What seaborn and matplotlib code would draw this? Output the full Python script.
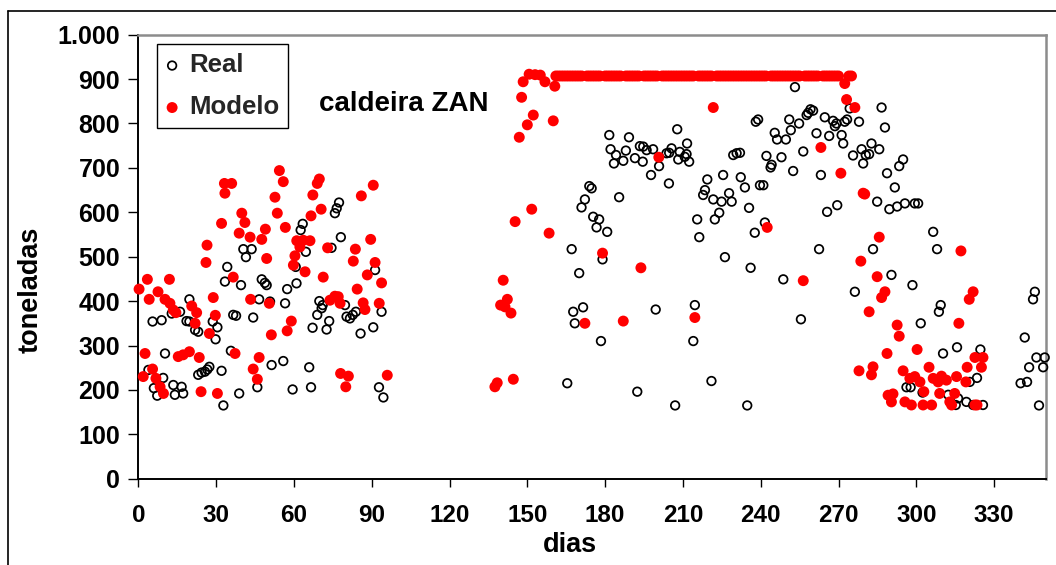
import matplotlib
matplotlib.use("Agg")
import matplotlib.pyplot as plt
import seaborn as sns
import pandas as pd
from matplotlib.lines import Line2D

# ---------------- data ----------------
real_dias = [
    77.4, 76.5, 75.8, 78.1, 63.4, 62.6, 40.5, 43.7, 41.5, 64.6, 74.5, 34.3, 91.3,
    33.4, 39.6, 47.6, 48.8, 49.5, 57.4, 61.0, 60.7, 46.6, 50.8,
    56.6, 44.3, 36.6, 37.7, 35.7, 19.7, 16.1, 12.9, 5.5, 9.0,
    18.6, 19.7, 28.7, 30.5, 29.8, 21.9, 23.1, 10.3, 3.9, 9.6,
    6.0, 7.3, 13.5, 14.1, 16.7, 17.3, 23.1, 24.4, 25.7, 26.6,
    27.4, 32.1, 32.8, 38.9, 45.9, 51.4, 55.9, 65.9, 59.5, 66.6,
    67.2, 72.6, 73.6, 69.0, 69.8, 70.7, 71.1, 79.7, 80.3, 81.6,
    82.7, 83.9, 85.7, 90.6, 93.8, 92.8, 94.5,
    181.6, 189.2, 207.8, 211.6, 182.1, 184.2, 183.4, 187.0, 188.0, 191.5,
    193.4, 194.7, 196.0, 194.5, 198.5, 200.8, 203.7, 205.6, 204.7, 208.8,
    210.7, 211.4, 212.4, 208.2, 197.7, 204.6, 185.4, 173.9, 174.8, 172.2,
    170.9, 175.4, 177.7, 176.7, 180.8, 167.1, 179.0, 170.0, 238.1, 239.0,
    229.4, 230.7, 232.0, 219.4, 225.5, 232.3, 233.9, 239.7, 218.5, 217.8,
    221.7, 224.9, 227.8, 228.8, 224.0, 222.3, 235.5, 215.5, 216.3, 237.7,
    226.2, 236.1,
    167.7, 171.5, 168.3, 178.4, 199.5, 214.6, 214.0, 165.4, 192.4, 207.0, 221.0, 234.8,
    253.2, 258.3, 259.2, 260.2, 257.7, 251.0, 254.8, 251.6, 245.4, 246.3,
    249.7, 261.5, 264.7, 266.4, 267.9, 268.6, 269.2, 271.2, 271.8, 272.4,
    273.3, 274.3, 277.9, 286.6, 287.9, 256.4, 278.9, 282.7, 285.7, 275.6,
    280.5, 281.8, 279.5, 293.4, 294.9, 288.7, 291.7, 284.9, 289.6, 292.6,
    295.6, 299.4, 300.7, 242.2, 248.0, 244.2, 243.8, 252.5, 263.2, 241.0,
    265.6, 269.5, 241.6, 262.5, 283.3, 306.5, 308.0, 248.7, 290.4,
    298.5, 276.3, 255.5, 309.4, 308.7, 301.7, 310.3, 315.7, 324.7, 323.4,
    320.6, 296.2, 297.8, 302.4, 312.3, 316.1, 315.2, 319.3, 321.9, 325.7,
    345.7, 345.0, 341.8, 346.3, 349.5, 343.5, 348.9, 340.2, 342.7, 347.3,
]
real_ton = [
    622, 609, 598, 544, 574, 560, 517, 517, 499, 511, 520, 477, 470,
    444, 436, 449, 441, 436, 427, 440, 477, 404, 399,
    395, 363, 369, 367, 288, 404, 376, 372, 354, 357,
    355, 354, 354, 341, 314, 335, 331, 282, 245, 227,
    204, 187, 211, 189, 207, 192, 234, 239, 241, 246,
    252, 243, 165, 192, 206, 256, 265, 251, 201, 206,
    340, 336, 355, 369, 400, 384, 391, 391, 365, 361,
    369, 376, 327, 341, 376, 206, 183,
    774, 769, 787, 755, 742, 729, 710, 716, 739, 722,
    749, 748, 740, 714, 742, 704, 733, 744, 734, 736,
    725, 731, 714, 719, 684, 665, 634, 659, 654, 629,
    611, 590, 584, 566, 556, 517, 494, 463, 804, 809,
    729, 733, 734, 674, 684, 679, 656, 661, 650, 639,
    629, 624, 643, 624, 599, 584, 610, 584, 544, 554,
    499, 475,
    376, 386, 350, 310, 381, 391, 310, 215, 196, 165, 220, 165,
    882, 824, 832, 829, 819, 809, 800, 785, 779, 764,
    764, 778, 814, 772, 806, 794, 800, 774, 755, 804,
    809, 834, 804, 836, 791, 737, 742, 755, 742, 728,
    729, 731, 710, 704, 719, 688, 656, 624, 607, 613,
    620, 620, 620, 727, 724, 707, 701, 693, 684, 661,
    601, 616, 577, 517, 517, 556, 517, 449, 459,
    436, 421, 359, 391, 376, 350, 282, 296, 291, 227,
    218, 206, 206, 194, 189, 181, 166, 173, 166, 166,
    421, 404, 318, 273, 273, 251, 251, 215, 218, 165,
]

modelo_dias = [
    33.2, 36.0, 33.4, 54.4, 55.9, 52.7, 53.6, 56.7, 69.8, 69.0,
    67.3, 70.5, 66.6, 90.6, 86.0, 89.6, 83.7, 82.9, 91.3, 73.0,
    39.9, 41.1, 32.1, 38.9, 43.1, 49.0, 47.6, 26.5, 26.1, 49.5,
    61.1, 66.2, 63.6, 62.3, 60.4, 59.8,
    64.3, 71.3, 88.3, 93.8, 84.4, 86.7, 87.4, 92.9, 73.9, 75.8,
    77.1, 77.8, 50.5, 43.3, 51.3, 59.0, 57.4, 36.6, 28.9, 29.7,
    27.4, 0.3, 3.5, 12.0, 7.6, 4.2, 10.3, 12.2, 13.5, 14.5,
    20.6, 22.5, 21.9, 2.6, 1.9, 5.5, 6.8, 8.4, 9.7, 15.4,
    17.3, 19.7, 23.5, 24.2, 30.5, 37.3, 46.6, 44.3, 45.9, 78.0,
    81.0, 80.0, 96.0,
    148.4, 150.7, 153.0, 155.0, 156.8, 160.6, 147.8, 152.3, 150.0, 146.9,
    160.0, 221.7, 200.7, 151.7, 145.3, 158.4, 179.0, 193.8, 140.7,
    142.3, 139.7, 141.4, 143.7, 137.5, 138.4, 144.6, 172.2, 187.0, 214.6,
    272.4, 273.1, 276.3, 263.2, 270.9, 279.5, 280.1, 242.5, 285.7, 317.2,
    278.6, 284.9, 256.4,
    287.9, 286.6, 281.8, 321.9, 320.4, 316.4, 292.6, 293.4, 300.3, 288.7,
    283.3, 282.7, 277.9, 294.9, 304.9, 297.5, 299.4, 301.4, 302.9, 306.5,
    308.4, 309.7, 311.6, 315.5, 319.1, 319.6, 322.6, 325.7, 325.1, 289.1,
    291.0, 290.4, 295.6, 298.1, 302.6, 305.9, 309.0, 312.9, 314.8, 313.6,
    322.6, 323.4,
]
modelo_ton = [
    665, 665, 643, 694, 669, 634, 598, 566, 675, 665,
    639, 607, 592, 661, 637, 539, 517, 490, 487, 520,
    598, 577, 575, 553, 544, 562, 539, 526, 487, 496,
    536, 536, 537, 522, 502, 481,
    466, 454, 459, 441, 427, 396, 381, 395, 402, 411,
    410, 395, 395, 404, 324, 355, 333, 454, 408, 368,
    327, 427, 449, 449, 421, 404, 404, 395, 380, 374,
    389, 374, 350, 282, 230, 247, 226, 207, 192, 275,
    279, 286, 273, 196, 192, 282, 273, 247, 224, 237,
    231, 207, 233,
    894, 911, 910, 909, 894, 884, 859, 819, 797, 769,
    806, 836, 724, 607, 579, 553, 508, 475, 447,
    404, 391, 387, 373, 207, 216, 224, 350, 355, 363,
    890, 854, 836, 746, 688, 643, 641, 566, 544, 513,
    490, 455, 446,
    421, 408, 376, 421, 404, 350, 346, 321, 291, 282,
    252, 234, 243, 243, 251, 226, 230, 218, 196, 226,
    218, 231, 222, 230, 218, 251, 273, 273, 251, 188,
    191, 173, 173, 166, 166, 166, 192, 173, 192, 166,
    166, 166,
]

# days on which the model sits at its capacity ceiling
teto_dias = [
    161, 162, 163, 164, 165, 166, 167, 168, 169, 170, 171,
    173, 174, 175, 176, 177, 178,
    180, 181, 182, 183, 184, 185, 186,
    188, 189, 190, 191, 192, 193,
    195, 196, 197, 198, 199, 200,
    202, 203, 204, 205, 206, 207, 208, 209, 210, 211, 212, 213, 214,
    216, 217, 218, 219, 220, 221,
    223, 224, 225, 226, 227, 228, 229, 230, 231, 232,
    233, 234, 235, 236, 237, 238, 239, 240, 241, 242,
    244, 245, 246, 247, 248, 249, 250, 251, 252, 253, 254, 255,
    257, 258, 259, 260, 261, 262,
    264, 265, 266, 267, 268, 269, 270,
    274, 275,
]
teto_ton = [
    907, 907, 907, 907, 907, 907, 907, 907, 907, 907, 907,
    907, 907, 907, 907, 907, 907,
    907, 907, 907, 907, 907, 907, 907,
    907, 907, 907, 907, 907, 907,
    907, 907, 907, 907, 907, 907,
    907, 907, 907, 907, 907, 907, 907, 907, 907, 907, 907, 907, 907,
    907, 907, 907, 907, 907, 907,
    907, 907, 907, 907, 907, 907, 907, 907, 907, 907,
    907, 907, 907, 907, 907, 907, 907, 907, 907, 907,
    907, 907, 907, 907, 907, 907, 907, 907, 907, 907, 907, 907,
    907, 907, 907, 907, 907, 907,
    907, 907, 907, 907, 907, 907, 907,
    907, 907,
]

x_ticks = [0, 30, 60, 90, 120, 150, 180, 210, 240, 270, 300, 330]
y_ticks = [0, 100, 200, 300, 400, 500, 600, 700, 800, 900, 1000]
y_tick_labels = ["0", "100", "200", "300", "400", "500", "600", "700", "800", "900", "1.000"]

df_real = pd.DataFrame({"dias": real_dias, "toneladas": real_ton})
df_modelo = pd.DataFrame({"dias": modelo_dias + teto_dias,
                          "toneladas": modelo_ton + teto_ton})

# ---------------- figure ----------------
sns.set_theme(style="white")
plt.rcParams["font.family"] = ["Liberation Sans", "DejaVu Sans"]
plt.rcParams["font.weight"] = "bold"
plt.rcParams["axes.labelweight"] = "bold"

W, H = 1056, 565
fig = plt.figure(figsize=(W / 100, H / 100), dpi=100)
fig.patch.set_facecolor("white")
x0, x1, y0, y1 = 138.3, 1046.0, 34.7, 478.7
ax = fig.add_axes([x0 / W, 1 - y1 / H, (x1 - x0) / W, (y1 - y0) / H])
ax.set_facecolor("white")

sns.scatterplot(data=df_real, x="dias", y="toneladas", ax=ax, marker="o",
                s=38, facecolor="none", edgecolor="black", linewidth=1.25,
                label="Real", clip_on=False, zorder=3)
sns.scatterplot(data=df_modelo, x="dias", y="toneladas", ax=ax, marker="o",
                s=62, color="#FF0000", edgecolor="none", linewidth=0,
                label="Modelo", clip_on=False, zorder=4)

ax.set_xlim(0, 350)
ax.set_ylim(0, 1000)
ax.set_xticks(x_ticks)
ax.set_yticks(y_ticks)
ax.set_yticklabels(y_tick_labels)
ax.tick_params(axis="x", bottom=True, direction="out", length=5.5, width=1.0,
               color="black", pad=13, labelsize=17.5, labelcolor="black")
ax.tick_params(axis="y", left=True, direction="out", length=7, width=1.0,
               color="black", pad=6, labelsize=18, labelcolor="black")
for lab in ax.get_xticklabels() + ax.get_yticklabels():
    lab.set_fontweight("bold")

for side in ["left", "bottom"]:
    ax.spines[side].set_color("black")
    ax.spines[side].set_linewidth(1.4)
for side in ["top", "right"]:
    ax.spines[side].set_color("#8c8c8c")
    ax.spines[side].set_linewidth(1.8)

ax.set_xlabel("dias", fontsize=19.5, fontweight="bold", color="black")
ax.set_ylabel("toneladas", fontsize=19.5, fontweight="bold", color="black")
ax.xaxis.set_label_coords((570 - x0) / (x1 - x0), (y1 - 545) / (y1 - y0))
ax.xaxis.label.set_va("center")
ax.yaxis.set_label_coords((31 - x0) / (x1 - x0), (y1 - 290) / (y1 - y0))
ax.yaxis.label.set_va("center")

ax.text(69.7, 829, "caldeira ZAN", fontsize=20, fontweight="bold",
        color="black", ha="left", va="baseline")

leg = ax.legend(loc="upper left",
                bbox_to_anchor=((156.7 - x0) / (x1 - x0), (y1 - 44.3) / (y1 - y0)),
                borderaxespad=0, frameon=True, fancybox=False, framealpha=1,
                edgecolor="black", prop={"weight": "bold", "size": 18.5},
                handlelength=0.5, handletextpad=0.4, borderpad=0.35,
                labelspacing=0.7)
leg.get_frame().set_linewidth(1.0)

# outer chart-area frame (top and left edges visible)
fy = 1 - 11 / H
fx = 8 / W
fig.add_artist(Line2D([fx, 1.0], [fy, fy], transform=fig.transFigure,
                      color="black", linewidth=1.2))
fig.add_artist(Line2D([fx, fx], [0.0, fy], transform=fig.transFigure,
                      color="black", linewidth=1.2))

fig.savefig("out.png", dpi=100, facecolor="white")
